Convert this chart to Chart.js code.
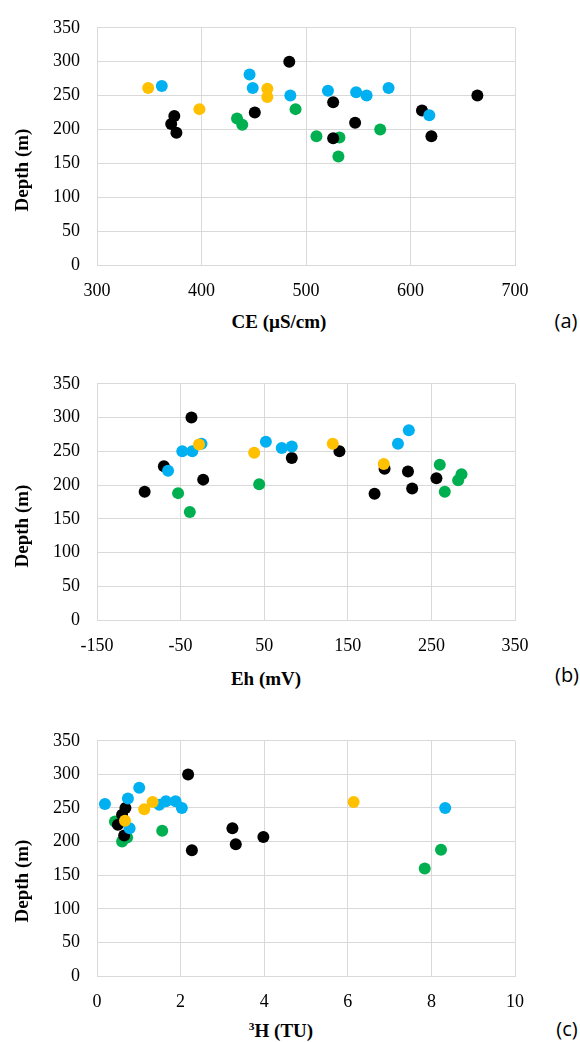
<!DOCTYPE html>
<html>
<head>
<meta charset="utf-8">
<script src="https://cdn.jsdelivr.net/npm/chart.js@4"></script>
<style>
  body { margin: 0; background: #fff; width: 580px; height: 1042px; position: relative; overflow: hidden; }
  canvas { position: absolute; left: 0; }
  .title { position: absolute; font-family: "Liberation Serif", serif; font-weight: bold; font-size: 19px; color: #000; white-space: nowrap; transform: translate(-50%, -50%); }
  .ytitle { transform: translate(-50%, -50%) rotate(-90deg); }
  .tag { position: absolute; font-family: "Open Sans", sans-serif; font-size: 20px; color: #000; white-space: nowrap; transform: translate(-50%, -50%); }
  sup { font-size: 0.6em; vertical-align: 0.6em; line-height: 0; }
</style>
</head>
<body>
<canvas id="panelA" width="580" height="300" style="top:0px"></canvas>
<canvas id="panelB" width="580" height="300" style="top:356px"></canvas>
<canvas id="panelC" width="580" height="300" style="top:713px"></canvas>

<div class="title" style="left:279px; top:322px">CE (µS/cm)</div>
<div class="title ytitle" style="left:22px; top:170px">Depth (m)</div>
<div class="tag" style="left:566px; top:320px">(a)</div>

<div class="title" style="left:266px; top:679px">Eh (mV)</div>
<div class="title ytitle" style="left:22px; top:526px">Depth (m)</div>
<div class="tag" style="left:567px; top:674px">(b)</div>

<div class="title" style="left:281px; top:1031px"><sup>3</sup>H (TU)</div>
<div class="title ytitle" style="left:22px; top:881px">Depth (m)</div>
<div class="tag" style="left:567px; top:1028px">(c)</div>

<script>
// tick values
const depthTicks = [0, 50, 100, 150, 200, 250, 300, 350];
const ceTicks = [300, 400, 500, 600, 700];
const ehTicks = [-150, -50, 50, 150, 250, 350];
const tritiumTicks = [0, 2, 4, 6, 8, 10];

// series order: yellow, blue, black, green (first one is drawn on top)
const seriesColors = ["#FFC000", "#00B0F0", "#000000", "#00B050"];

// (a) CE vs depth, [x, y]
const ceYellow = [[349, 261], [398, 230], [463, 260], [463, 248]];
const ceBlue = [[362, 264], [446, 281], [449, 261], [485, 250], [521, 257], [548, 255], [558, 250], [579, 261], [618, 221]];
const ceBlack = [[484, 300], [374, 220], [371, 208], [376, 195], [451, 225], [526, 240], [526, 187], [547, 210], [611, 228], [620, 190], [664, 250]];
const ceGreen = [[434, 216], [439, 207], [490, 230], [510, 190], [532, 188], [531, 160], [571, 200]];

// (b) Eh vs depth
const ehYellow = [[-28, 260], [38, 248], [132, 261], [193, 231]];
const ehBlue = [[-65, 221], [-48, 250], [-36, 250], [-25, 261], [52, 264], [71, 255], [83, 257], [210, 261], [223, 281]];
const ehBlack = [[-93, 190], [-70, 228], [-37, 300], [-23, 208], [83, 240], [140, 250], [182, 187], [194, 224], [222, 220], [227, 195], [256, 210]];
const ehGreen = [[-53, 188], [-39, 160], [44, 201], [260, 230], [266, 190], [282, 207], [286, 216]];

// (c) tritium vs depth
const h3Yellow = [[0.67, 231], [1.13, 248], [1.33, 259], [6.14, 259]];
const h3Blue = [[0.19, 256], [0.74, 264], [1.01, 280], [1.49, 255], [1.65, 260], [1.88, 260], [2.03, 250], [0.78, 220], [8.33, 250]];
const h3Black = [[2.18, 300], [0.68, 250], [0.6, 240], [0.5, 225], [0.65, 209], [2.27, 187], [3.24, 220], [3.32, 196], [3.98, 207]];
const h3Green = [[0.43, 230], [0.6, 200], [0.72, 206], [1.56, 216], [7.84, 160], [8.23, 188]];

const tickFont = { family: "Liberation Serif", size: 18 };

function drawPanel(id, series, xTicks, xAxisHeight) {
  new Chart(document.getElementById(id), {
    type: "scatter",
    data: {
      datasets: series.map((pts, i) => ({
        data: pts.map(([x, y]) => ({ x, y })),
        backgroundColor: seriesColors[i],
        borderWidth: 0,
        pointRadius: 6,
        pointHoverRadius: 6
      }))
    },
    options: {
      responsive: false,
      animation: false,
      layout: { padding: { top: 22, right: 65, left: 0, bottom: 0 } },
      plugins: { legend: { display: false }, tooltip: { enabled: false } },
      scales: {
        x: {
          type: "linear",
          min: xTicks[0],
          max: xTicks[xTicks.length - 1],
          afterBuildTicks: s => { s.ticks = xTicks.map(v => ({ value: v })); },
          afterFit: s => { s.height = xAxisHeight; },
          grid: { color: "#d9d9d9", drawTicks: false },
          border: { color: "#d9d9d9" },
          ticks: { padding: 15, color: "#000", font: tickFont }
        },
        y: {
          type: "linear",
          min: 0,
          max: 350,
          afterBuildTicks: s => { s.ticks = depthTicks.map(v => ({ value: v })); },
          afterFit: s => { s.width = 97; },
          grid: { color: "#d9d9d9", drawTicks: false },
          border: { color: "#d9d9d9" },
          ticks: { padding: 17, color: "#000", font: tickFont }
        }
      }
    }
  });
}

drawPanel("panelA", [ceYellow, ceBlue, ceBlack, ceGreen], ceTicks, 35);
drawPanel("panelB", [ehYellow, ehBlue, ehBlack, ehGreen], ehTicks, 36);
drawPanel("panelC", [h3Yellow, h3Blue, h3Black, h3Green], tritiumTicks, 37);
</script>
</body>
</html>
